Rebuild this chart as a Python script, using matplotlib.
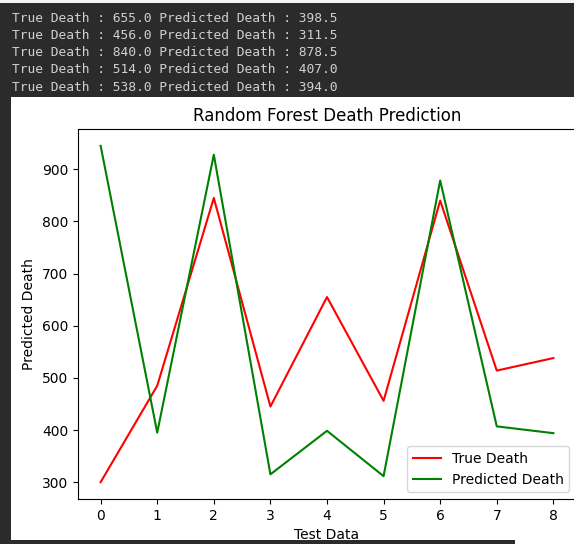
import matplotlib
matplotlib.use("Agg")
import matplotlib.pyplot as plt
from matplotlib.patches import Rectangle

x_index = [0, 1, 2, 3, 4, 5, 6, 7, 8]
true_death = [300, 485, 845, 445, 655, 456, 840, 514, 538]
predicted_death = [945, 395, 928, 315, 398.5, 311.5, 878.5, 407, 394]

console_true = [655.0, 456.0, 840.0, 514.0, 538.0]
console_pred = [398.5, 311.5, 878.5, 407.0, 394.0]

W, H = 574, 544
fig = plt.figure(figsize=(W / 100, H / 100), dpi=100)
fig.patch.set_facecolor("#2b2b2b")

def px(x, y):
    return x / W, 1 - y / H

# thin light strip at the very top
xt, yt = px(0, 3)
fig.add_artist(Rectangle((xt, yt), 1, 3 / H, transform=fig.transFigure,
                         facecolor="#f4f4f4", edgecolor="none", zorder=0))

# white image area
x0, y0 = px(11, 540)
fig.add_artist(Rectangle((x0, y0), (W - 11) / W, (540 - 97) / H,
                         transform=fig.transFigure, facecolor="white",
                         edgecolor="none", zorder=0))
x1, y1 = px(515, 544)
fig.add_artist(Rectangle((x1, y1), (W - 515) / W, 4 / H,
                         transform=fig.transFigure, facecolor="white",
                         edgecolor="none", zorder=0))

# console text
for i, (t, p) in enumerate(zip(console_true, console_pred)):
    tx, ty = px(12, 18 + i * 17.3)
    fig.text(tx, ty, f"True Death : {t:.1f} Predicted Death : {p:.1f}",
             family="DejaVu Sans Mono", fontsize=9.3, color="#d0d0d0",
             va="center", ha="left")

left, top, right, bottom = 78, 129, 576, 499
ax = fig.add_axes([left / W, 1 - bottom / H, (right - left) / W, (bottom - top) / H])
ax.plot(x_index, true_death, color="red", label="True Death")
ax.plot(x_index, predicted_death, color="green", label="Predicted Death")
ax.set_title("Random Forest Death Prediction")
ax.set_xlabel("Test Data")
ax.set_ylabel("Predicted Death")
ax.legend(loc="lower right")

fig.savefig("out.png", dpi=100, facecolor=fig.get_facecolor())
